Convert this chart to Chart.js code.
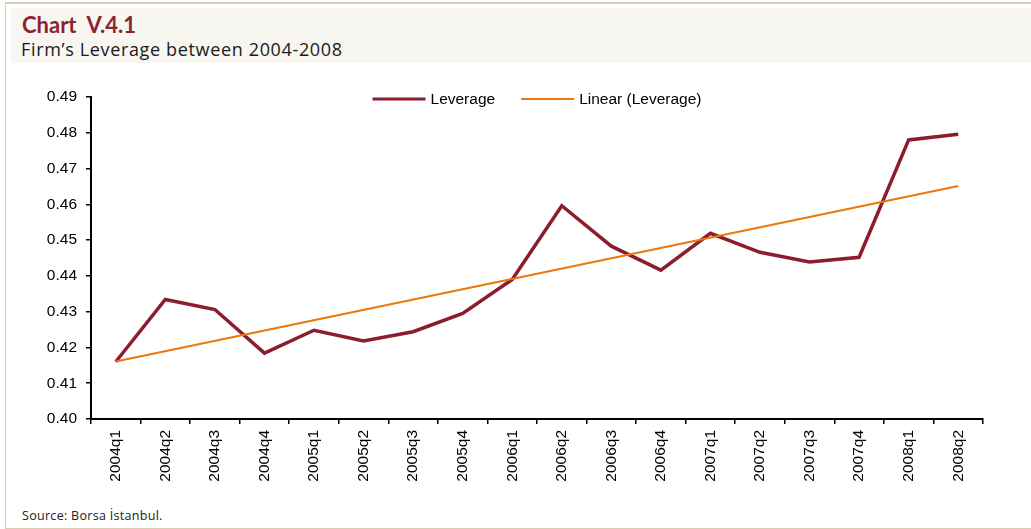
<!DOCTYPE html>
<html>
<head>
<meta charset="utf-8">
<script src="https://cdn.jsdelivr.net/npm/chart.js@4/dist/chart.umd.min.js"></script>
<style>
  html, body { margin: 0; padding: 0; background: #ffffff; }
  #frame {
    position: relative; width: 1031px; height: 529px; overflow: hidden;
    background: #ffffff;
  }
  #border {
    position: absolute; left: 5px; top: 2px; width: 1040px; height: 524px;
    border-left: 1px solid #d9ccb0; border-top: 2px solid #d9ccb0; border-bottom: 2px solid #d9ccb0;
  }
  #band {
    position: absolute; left: 11px; top: 8px; width: 1030px; height: 55px;
    background: #f7f6f1;
  }
  #title {
    position: absolute; left: 22px; top: 11px;
    font: bold 22px "Lato", sans-serif; color: #8c2332; white-space: pre;
  }
  #subtitle {
    position: absolute; left: 21px; top: 37px;
    font: 18px "Open Sans", sans-serif; letter-spacing: 0.65px; color: #1a1a1a; white-space: pre;
  }
  #source {
    position: absolute; left: 22px; top: 507px;
    font: 12.5px "Open Sans", sans-serif; letter-spacing: 0.3px; color: #222; white-space: pre;
  }
  #chartBox { position: absolute; left: 0; top: 0; width: 1031px; height: 529px; }
</style>
</head>
<body>
<div id="frame">
  <div id="border"></div>
  <div id="band"></div>
  <div id="title">Chart  V.4.1</div>
  <div id="subtitle">Firm’s Leverage between 2004-2008</div>
  <div id="source">Source: Borsa İstanbul.</div>
  <div id="chartBox"><canvas id="chart" width="1031" height="529"></canvas></div>
</div>
<script>
// Quarterly periods on the x axis
const quarters = [
  '2004q1', '2004q2', '2004q3', '2004q4',
  '2005q1', '2005q2', '2005q3', '2005q4',
  '2006q1', '2006q2', '2006q3', '2006q4',
  '2007q1', '2007q2', '2007q3', '2007q4',
  '2008q1', '2008q2'
];

// Firms' leverage ratio per quarter
const leverage = [
  0.4160, 0.4334, 0.4306, 0.4184,
  0.4248, 0.4218, 0.4244, 0.4295,
  0.4390, 0.4596, 0.4483, 0.4416,
  0.4519, 0.4466, 0.4439, 0.4452,
  0.4780, 0.4796
];

// Linear trend end points (first and last quarter)
const trendStart = 0.4161;
const trendEnd = 0.4651;

// Y-axis tick range
const yMin = 0.40;
const yMax = 0.49;
const yStep = 0.01;

const axisFont = { family: '"Liberation Sans", Arial, sans-serif', size: 15.5 };

// Legend drawn inside the top of the plot area, centred horizontally
const insideLegend = {
  id: 'insideLegend',
  afterDraw(chart) {
    const ctx = chart.ctx;
    const area = chart.chartArea;
    const sample = 53, gapText = 5, gapItem = 26;
    ctx.save();
    ctx.font = `${axisFont.size}px ${axisFont.family}`;
    const items = chart.data.datasets.map(ds => ({
      ds, w: sample + gapText + ctx.measureText(ds.label).width
    }));
    const total = items.reduce((s, it) => s + it.w, 0) + gapItem * (items.length - 1);
    let x = (area.left + area.right) / 2 - total / 2;
    const y = area.top + 2;
    items.forEach(({ ds, w }) => {
      ctx.strokeStyle = ds.borderColor;
      ctx.lineWidth = ds.legendLineWidth;
      ctx.lineCap = 'butt';
      ctx.beginPath();
      ctx.moveTo(x, y);
      ctx.lineTo(x + sample, y);
      ctx.stroke();
      ctx.fillStyle = '#000';
      ctx.textBaseline = 'middle';
      ctx.textAlign = 'left';
      ctx.fillText(ds.label, x + sample + gapText, y + 1);
      x += w + gapItem;
    });
    ctx.restore();
  }
};

new Chart(document.getElementById('chart'), {
  type: 'line',
  data: {
    labels: quarters,
    datasets: [
      {
        label: 'Leverage',
        data: leverage,
        borderColor: '#8b1e2e',
        backgroundColor: '#8b1e2e',
        borderWidth: 3.5,
        legendLineWidth: 3,
        pointRadius: 0,
        tension: 0,
        order: 1
      },
      {
        label: 'Linear (Leverage)',
        data: [
          { x: quarters[0], y: trendStart },
          { x: quarters[quarters.length - 1], y: trendEnd }
        ],
        borderColor: '#ee760c',
        backgroundColor: '#ee760c',
        borderWidth: 2,
        legendLineWidth: 2,
        pointRadius: 0,
        tension: 0,
        order: 0
      }
    ]
  },
  plugins: [insideLegend],
  options: {
    responsive: false,
    animation: false,
    layout: { padding: { left: 0, right: 48, top: 97, bottom: 0 } },
    plugins: {
      tooltip: { enabled: false },
      legend: { display: false }
    },
    scales: {
      x: {
        type: 'category',
        offset: true,
        afterFit: (s) => { s.height = 110; },
        grid: {
          offset: true,
          drawOnChartArea: false,
          drawTicks: true,
          tickLength: 5,
          color: '#000',
          lineWidth: 1.5
        },
        border: { display: true, color: '#000', width: 2 },
        ticks: {
          minRotation: 90,
          maxRotation: 90,
          autoSkip: false,
          padding: 6,
          color: '#000',
          font: axisFont
        }
      },
      y: {
        min: yMin,
        max: yMax,
        afterFit: (s) => { s.width = 91; },
        grid: {
          drawOnChartArea: false,
          drawTicks: true,
          tickLength: 5,
          color: '#000',
          lineWidth: 1.5
        },
        border: { display: true, color: '#000', width: 2 },
        ticks: {
          stepSize: yStep,
          padding: 9,
          color: '#000',
          font: axisFont,
          callback: (v) => Number(v).toFixed(2)
        }
      }
    }
  }
});
</script>
</body>
</html>
